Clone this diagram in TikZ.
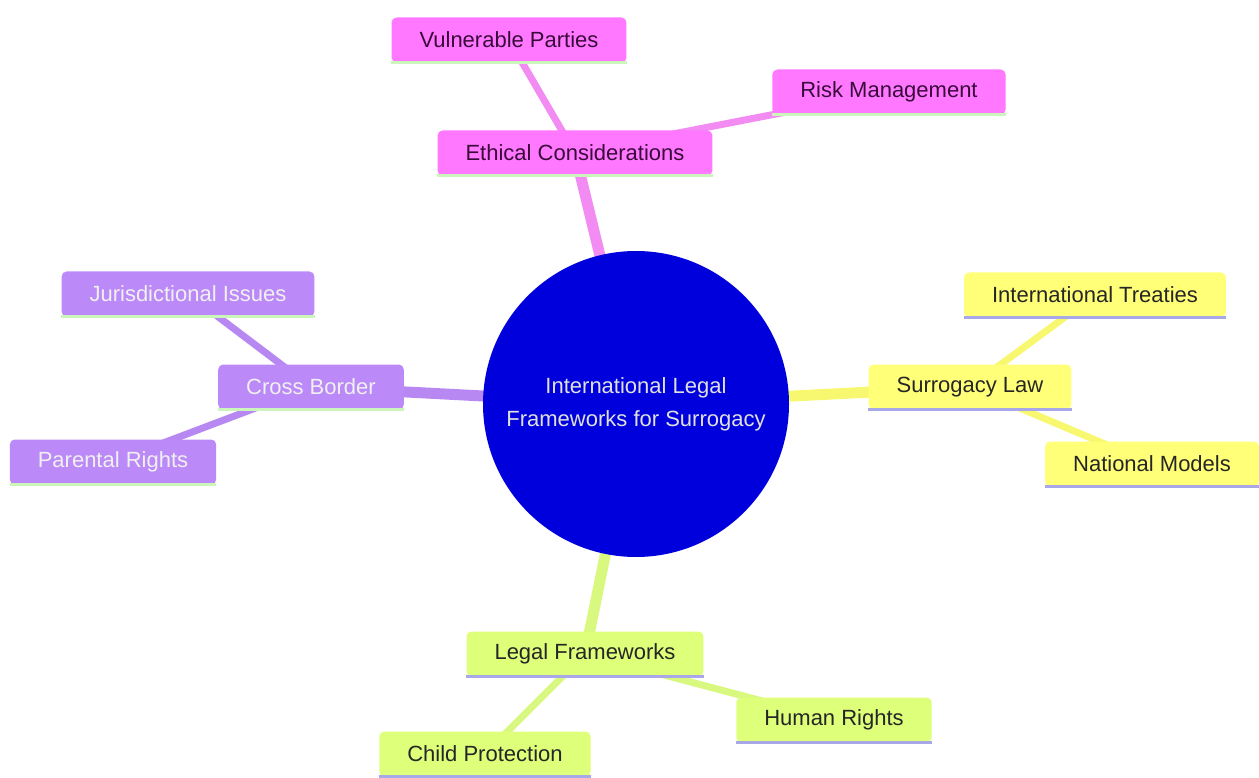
\documentclass[tikz,border=0pt]{standalone}
\usepackage{fontspec}
\setmainfont{Liberation Sans}
\usetikzlibrary{backgrounds}

\definecolor{rootblue}{HTML}{0000DD}
\definecolor{pinkfill}{HTML}{FF78FF}
\definecolor{pinkedge}{HTML}{F28CF2}
\definecolor{pinktext}{HTML}{3A0A3A}
\definecolor{purplefill}{HTML}{BB8AF8}
\definecolor{purpleedge}{HTML}{B888F2}
\definecolor{yellowfill}{HTML}{FFFF78}
\definecolor{yellowedge}{HTML}{F8F870}
\definecolor{greenfill}{HTML}{DDFF7A}
\definecolor{greenedge}{HTML}{D8F880}
\definecolor{mintline}{HTML}{CCF5BB}
\definecolor{lavline}{HTML}{A8A8E8}

\tikzset{
	box/.style={rectangle, rounded corners=5pt, inner xsep=28pt, inner ysep=0pt,
		minimum height=45pt, font=\fontsize{22}{26}\selectfont},
	ethbox/.style={box, fill=pinkfill, text=pinktext},
	crossbox/.style={box, fill=purplefill, text=white!94!black},
	lawbox/.style={box, fill=yellowfill, text=black!85},
	legalbox/.style={box, fill=greenfill, text=black!85},
	trunk/.style={line width=11pt},
	twig/.style={line width=7pt},
}

\begin{document}
\begin{tikzpicture}[x=1pt, y=-1pt]

	\useasboundingbox (0,0) rectangle (1259,778);

	% ---- parameters

	\def\rootradius{153}

	% ---- root

	\node[circle, fill=rootblue, minimum size=2*\rootradius, inner sep=0pt,
		text=white!88!black, align=center, font=\fontsize{22}{33}\selectfont]
		(root) at (636,404) {International Legal\\Frameworks for Surrogacy};

	% ---- sections

	\node[ethbox] (ethical) at (575,153) {Ethical Considerations};
	\node[crossbox] (cross) at (311,387) {Cross Border};
	\node[lawbox] (law) at (970,387) {Surrogacy Law};
	\node[legalbox] (legal) at (585,654) {Legal Frameworks};

	% ---- leaves

	\node[ethbox] (vulnerable) at (509,40) {Vulnerable Parties};
	\node[ethbox] (risk) at (889,92) {Risk Management};

	\node[crossbox] (jurisdiction) at (188,294) {Jurisdictional Issues};
	\node[crossbox] (parental) at (113,462) {Parental Rights};

	\node[lawbox] (treaties) at (1095,295) {International Treaties};
	\node[lawbox] (national) at (1152,464) {National Models};

	\node[legalbox] (child) at (485,754) {Child Protection};
	\node[legalbox] (human) at (834,720) {Human Rights};

	% ---- bottom lines

	\foreach \n/\c in {ethical/mintline, vulnerable/mintline, risk/mintline,
		cross/mintline, jurisdiction/mintline, parental/mintline,
		law/lavline, treaties/lavline, national/lavline,
		legal/lavline, child/lavline, human/lavline} {
		\draw[\c, line width=3pt] (\n.south west) -- (\n.south east);
	}

	% ---- edges

	\begin{pgfonlayer}{background}
		\draw[trunk, pinkedge] (root.center) -- (ethical.center);
		\draw[trunk, purpleedge] (root.center) -- (cross.center);
		\draw[trunk, yellowedge] (root.center) -- (law.center);
		\draw[trunk, greenedge] (root.center) -- (legal.center);

		\draw[twig, pinkedge] (ethical.center) -- (vulnerable.center);
		\draw[twig, pinkedge] (ethical.center) -- (risk.center);
		\draw[twig, purpleedge] (cross.center) -- (jurisdiction.center);
		\draw[twig, purpleedge] (cross.center) -- (parental.center);
		\draw[twig, yellowedge] (law.center) -- (treaties.center);
		\draw[twig, yellowedge] (law.center) -- (national.center);
		\draw[twig, greenedge] (legal.center) -- (child.center);
		\draw[twig, greenedge] (legal.center) -- (human.center);
	\end{pgfonlayer}

\end{tikzpicture}
\end{document}
